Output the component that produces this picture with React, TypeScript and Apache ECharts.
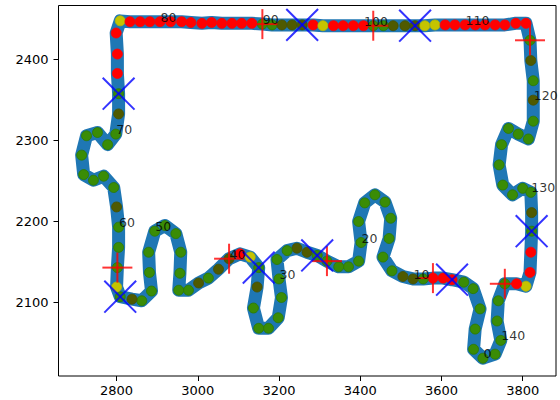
import React, { useEffect, useRef } from "react";
import * as echarts from "echarts";

// Track points (index 0..141)
const trackX = [
  3702, 3679, 3683, 3695, 3678, 3655, 3626, 3604, 3579, 3555,
  3530, 3505, 3478, 3456, 3471, 3475, 3461, 3436, 3411, 3396,
  3402, 3396, 3371, 3347, 3318, 3294, 3269, 3244, 3220, 3195,
  3200, 3206, 3198, 3174, 3150, 3137, 3146, 3150, 3129, 3104,
  3077, 3051, 3026, 3002, 2977, 2953, 2956, 2958, 2946, 2919,
  2894, 2879, 2881, 2886, 2862, 2838, 2809, 2800, 2802, 2805,
  2805, 2800, 2793, 2768, 2743, 2719, 2714, 2726, 2753, 2778,
  2798, 2805, 2805, 2802, 2802, 2799, 2809, 2833, 2858, 2882,
  2907, 2933, 2960, 2983, 3010, 3034, 3059, 3084, 3108, 3133,
  3159, 3183, 3207, 3232, 3257, 3284, 3308, 3334, 3358, 3383,
  3408, 3432, 3457, 3481, 3510, 3535, 3559, 3584, 3609, 3633,
  3658, 3683, 3707, 3732, 3756, 3783, 3808, 3818, 3820, 3826,
  3826, 3826, 3814, 3789, 3765, 3748, 3742, 3751, 3775, 3800,
  3820, 3822, 3822, 3820, 3818, 3808, 3785, 3756, 3740, 3737,
  3746, 3732,
];
const trackY = [
  2031, 2042, 2067, 2092, 2117, 2125, 2128, 2130, 2130, 2129,
  2129, 2132, 2139, 2156, 2179, 2204, 2224, 2233, 2223, 2200,
  2174, 2151, 2144, 2144, 2151, 2158, 2162, 2167, 2164, 2153,
  2129, 2106, 2081, 2068, 2068, 2093, 2119, 2143, 2156, 2160,
  2154, 2141, 2130, 2124, 2115, 2115, 2136, 2162, 2185, 2195,
  2188, 2162, 2137, 2114, 2102, 2104, 2107, 2119, 2143, 2168,
  2193, 2218, 2242, 2256, 2251, 2258, 2282, 2306, 2310, 2295,
  2308, 2333, 2358, 2383, 2407, 2433, 2448, 2447, 2447, 2447,
  2447, 2447, 2447, 2446, 2445, 2446, 2445, 2445, 2445, 2445,
  2444, 2443, 2443, 2443, 2443, 2443, 2442, 2442, 2442, 2442,
  2442, 2442, 2442, 2442, 2442, 2442, 2442, 2443, 2443, 2443,
  2443, 2443, 2443, 2443, 2443, 2445, 2445, 2424, 2399, 2374,
  2350, 2324, 2302, 2308, 2315, 2295, 2270, 2245, 2233, 2241,
  2236, 2211, 2188, 2162, 2137, 2120, 2123, 2123, 2102, 2077,
  2053, 2036,
];
// point class per index: g = green, o = olive, y = yellow, r = red
const pointClass = [
  "g", "g", "g", "g", "g", "g", "r", "r", "r", "g",
  "o", "o", "g", "g", "g", "g", "g", "g", "g", "g",
  "g", "g", "g", "g", "g", "g", "o", "o", "g", "g",
  "g", "g", "g", "g", "g", "g", "o", "g", "y", "r",
  "o", "o", "g", "o", "g", "g", "g", "g", "g", "g",
  "g", "g", "g", "g", "g", "o", "g", "y", "g", "g",
  "g", "o", "g", "g", "g", "g", "g", "g", "g", "g",
  "g", "o", "g", "r", "r", "r", "y", "r", "r", "r",
  "r", "r", "r", "r", "r", "r", "r", "r", "r", "r",
  "g", "g", "o", "o", "o", "r", "y", "r", "r", "r",
  "r", "g", "g", "o", "o", "o", "y", "y", "r", "r",
  "r", "r", "r", "r", "r", "r", "r", "g", "o", "g",
  "o", "g", "g", "g", "g", "g", "g", "g", "g", "g",
  "g", "o", "g", "r", "r", "y", "r", "g", "g", "g",
  "g", "g",
];
const plusIdx = [8, 24, 40, 58, 90, 101, 117, 137];
const crossIdx = [6, 25, 37, 56, 72, 94, 105, 132];
const labelIdx = [0, 10, 20, 30, 40, 50, 60, 70, 80, 90, 100, 110, 120, 130, 140];
const xTicks = [2800, 3000, 3200, 3400, 3600, 3800];
const yTicks = [2100, 2200, 2300, 2400];
const xRange = [2657, 3882];
const yRange = [2009, 2467];

const classColor: Record<string, string> = {
  g: "#3a8c06",
  o: "#4f5a00",
  y: "#c4c400",
  r: "#ff0000",
};
const classBorder: Record<string, string> = {
  g: "#2c7a00",
  o: "#465000",
  y: "#b8b800",
  r: "#ff0000",
};

export default function App() {
  const ref = useRef<HTMLDivElement>(null);
  useEffect(() => {
    if (!ref.current) return;
    const chart = echarts.init(ref.current, null, { renderer: "svg" });
    const pts = trackX.map((x, i) => [x, trackY[i]]);
    const loop = [...pts, pts[0]];
    const font = "DejaVu Sans";
    chart.setOption({
      animation: false,
      backgroundColor: "#ffffff",
      grid: {
        left: 58.5,
        top: 5.5,
        right: 4,
        bottom: 24,
        show: true,
        borderColor: "#000",
        borderWidth: 1,
        backgroundColor: "transparent",
      },
      xAxis: {
        type: "value",
        min: xRange[0],
        max: xRange[1],
        splitLine: { show: false },
        axisLine: { show: false },
        axisTick: { show: true, length: 5, lineStyle: { color: "#000", width: 1 }, customValues: xTicks },
        axisLabel: {
          color: "#000",
          fontSize: 13,
          fontFamily: font,
          margin: 8,
          customValues: xTicks,
          formatter: (v: number) => String(v),
        },
      },
      yAxis: {
        type: "value",
        min: yRange[0],
        max: yRange[1],
        splitLine: { show: false },
        axisLine: { show: false },
        axisTick: { show: true, length: 5, lineStyle: { color: "#000", width: 1 }, customValues: yTicks },
        axisLabel: {
          color: "#000",
          fontSize: 13,
          fontFamily: font,
          margin: 10,
          customValues: yTicks,
          formatter: (v: number) => String(v),
        },
      },
      series: [
        {
          type: "line",
          data: loop,
          showSymbol: false,
          symbol: "none",
          lineStyle: { color: "#1f77b4", width: 13, cap: "round", join: "round" },
          z: 1,
        },
        {
          type: "scatter",
          symbolSize: 10,
          data: pts.map((p, i) => ({
            value: p,
            itemStyle: {
              color: classColor[pointClass[i]],
              borderColor: classBorder[pointClass[i]],
              borderWidth: 0.8,
              opacity: 1,
            },
          })),
          z: 2,
        },
        {
          type: "scatter",
          symbol: "rect",
          symbolSize: [30, 2],
          itemStyle: { color: "#ff0000" },
          data: plusIdx.map((i) => pts[i]),
          z: 3,
        },
        {
          type: "scatter",
          symbol: "rect",
          symbolSize: [2, 30],
          itemStyle: { color: "#ff0000" },
          data: plusIdx.map((i) => pts[i]),
          z: 3,
        },
        {
          type: "scatter",
          symbol: "rect",
          symbolSize: [45, 2],
          symbolRotate: 45,
          itemStyle: { color: "#0000ff" },
          data: crossIdx.map((i) => pts[i]),
          z: 4,
        },
        {
          type: "scatter",
          symbol: "rect",
          symbolSize: [45, 2],
          symbolRotate: -45,
          itemStyle: { color: "#0000ff" },
          data: crossIdx.map((i) => pts[i]),
          z: 4,
        },
        {
          type: "scatter",
          symbolSize: 1,
          itemStyle: { color: "transparent" },
          data: labelIdx.map((i) => [trackX[i], trackY[i], i]),
          label: {
            show: true,
            position: [1, 0],
            align: "left",
            verticalAlign: "middle",
            offset: [0, -4],
            fontSize: 12.5,
            fontFamily: font,
            color: "#000",
            formatter: (p: any) => String(p.value[2]),
          },
          z: 5,
        },
      ],
    });
    return () => chart.dispose();
  }, []);
  return (
    <div
      ref={ref}
      style={{ position: "fixed", left: 0, top: 0, width: 560, height: 400, background: "#fff" }}
    />
  );
}
